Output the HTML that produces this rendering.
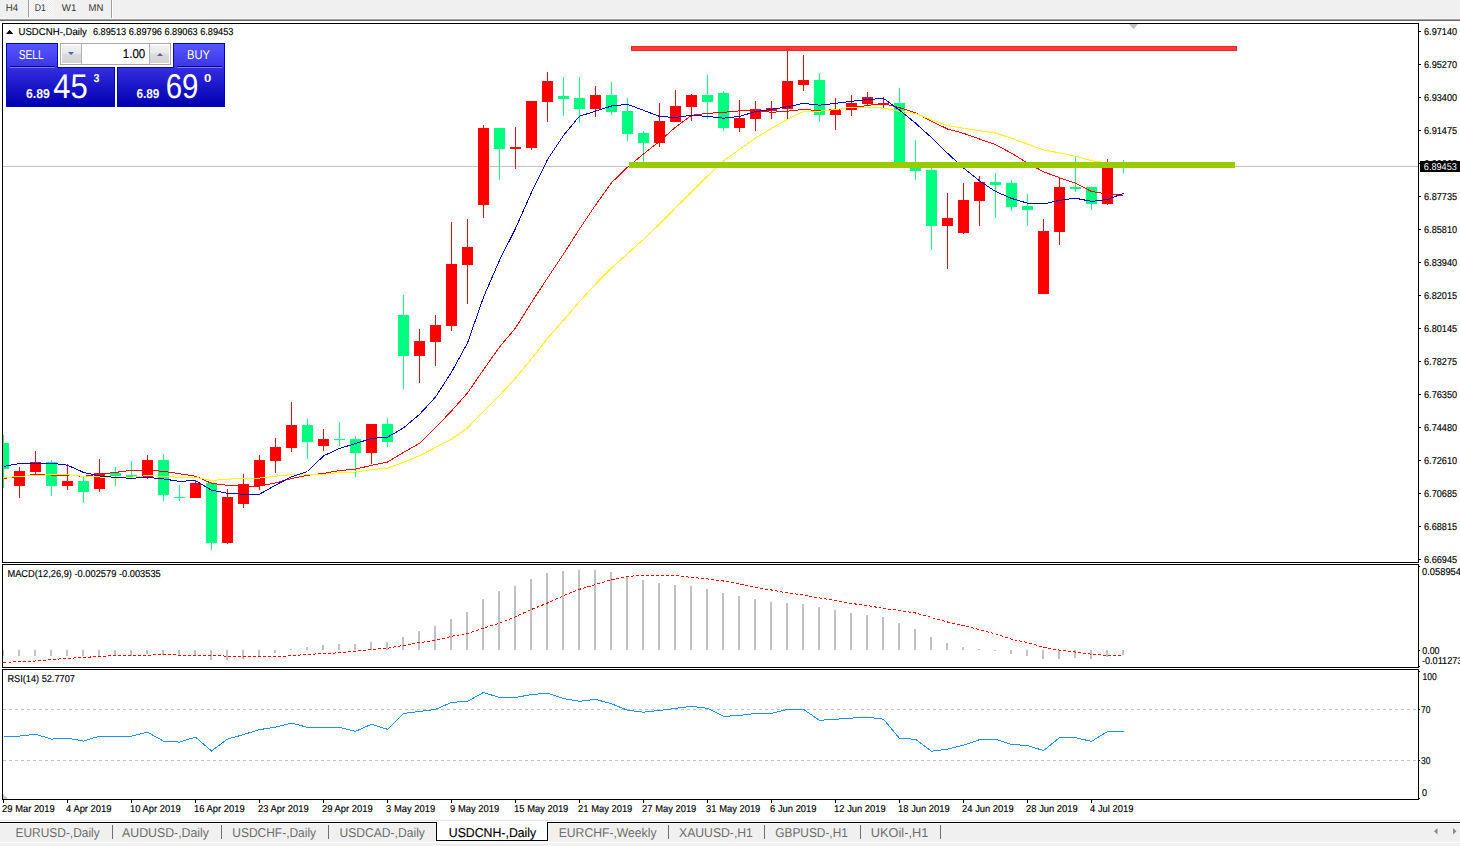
<!DOCTYPE html>
<html><head><meta charset="utf-8"><title>USDCNH-,Daily</title>
<style>
html,body{margin:0;padding:0;background:#fff;overflow:hidden;}
body{width:1460px;height:846px;position:relative;font-family:"Liberation Sans",sans-serif;}
svg{position:absolute;left:0;top:0;display:block;}
text{font-family:"Liberation Sans",sans-serif;text-rendering:geometricPrecision;}
</style></head><body>
<svg width="1460" height="846" viewBox="0 0 1460 846">
<rect x="0" y="0" width="1460" height="18" fill="#f0f0f0"/>
<rect x="0" y="18" width="1460" height="1" fill="#f7f7f7"/>
<rect x="0" y="19" width="1460" height="1" fill="#a0a0a0"/>
<rect x="0" y="20" width="1460" height="1" fill="#696969"/>
<defs><pattern id="chk" width="2" height="2" patternUnits="userSpaceOnUse"><rect width="2" height="2" fill="#fbfbfb"/><rect width="1" height="1" fill="#ececec"/><rect x="1" y="1" width="1" height="1" fill="#ececec"/></pattern></defs>
<rect x="29" y="0" width="24" height="17" fill="url(#chk)"/>
<rect x="28" y="0" width="1" height="17" fill="#a0a0a0"/>
<rect x="111" y="0" width="1" height="18" fill="#a0a0a0"/><rect x="112" y="0" width="1" height="18" fill="#ffffff"/>
<g font-family="Liberation Sans, sans-serif">
<text x="5.80" y="11" font-size="10.00" fill="#333" font-weight="normal" textLength="12.20" lengthAdjust="spacingAndGlyphs" >H4</text>
<text x="34.75" y="11" font-size="10.00" fill="#333" font-weight="normal" textLength="11.15" lengthAdjust="spacingAndGlyphs" >D1</text>
<text x="61.80" y="11" font-size="10.00" fill="#333" font-weight="normal" textLength="14.50" lengthAdjust="spacingAndGlyphs" >W1</text>
<text x="88.60" y="11" font-size="10.00" fill="#333" font-weight="normal" textLength="14.80" lengthAdjust="spacingAndGlyphs" >MN</text>
</g>
<rect x="2.5" y="23.5" width="1416" height="539" fill="#fff" stroke="#000" stroke-width="1"/>
<rect x="2.5" y="564.5" width="1416" height="103" fill="#fff" stroke="#000" stroke-width="1"/>
<rect x="2.5" y="669.5" width="1416" height="130" fill="#fff" stroke="#000" stroke-width="1"/>
<defs><clipPath id="cm"><rect x="3" y="24" width="1415" height="538"/></clipPath><clipPath id="cmacd"><rect x="3" y="565" width="1415" height="102"/></clipPath><clipPath id="crsi"><rect x="3" y="670" width="1415" height="129"/></clipPath></defs>
<g clip-path="url(#cm)" shape-rendering="crispEdges">
<rect x="3" y="166" width="1415" height="1" fill="#c0c0c0"/>
<polygon points="1129,24 1138,24 1133.5,29" fill="#c0c0c0" shape-rendering="auto"/>
<rect x="3" y="435" width="1" height="53" fill="#00ff80"/>
<rect x="-2" y="443" width="11" height="26" fill="#00ff80"/>
<rect x="19" y="467" width="1" height="31" fill="#ff0000"/>
<rect x="14" y="471" width="11" height="15" fill="#ff0000"/>
<rect x="35" y="451" width="1" height="24" fill="#ff0000"/>
<rect x="30" y="462" width="11" height="10" fill="#ff0000"/>
<rect x="51" y="460" width="1" height="36" fill="#00ff80"/>
<rect x="46" y="462" width="11" height="24" fill="#00ff80"/>
<rect x="67" y="464" width="1" height="26" fill="#ff0000"/>
<rect x="62" y="481" width="11" height="5" fill="#ff0000"/>
<rect x="83" y="477" width="1" height="26" fill="#00ff80"/>
<rect x="78" y="481" width="11" height="11" fill="#00ff80"/>
<rect x="99" y="459" width="1" height="33" fill="#ff0000"/>
<rect x="94" y="473" width="11" height="16" fill="#ff0000"/>
<rect x="115" y="467" width="1" height="19" fill="#00ff80"/>
<rect x="110" y="473" width="11" height="3" fill="#00ff80"/>
<rect x="131" y="461" width="1" height="17" fill="#00ff80"/>
<rect x="126" y="475" width="11" height="2" fill="#00ff80"/>
<rect x="147" y="455" width="1" height="24" fill="#ff0000"/>
<rect x="142" y="460" width="11" height="18" fill="#ff0000"/>
<rect x="163" y="454" width="1" height="47" fill="#00ff80"/>
<rect x="158" y="460" width="11" height="35" fill="#00ff80"/>
<rect x="179" y="485" width="1" height="16" fill="#00ff80"/>
<rect x="174" y="497" width="11" height="1" fill="#00ff80"/>
<rect x="195" y="481" width="1" height="17" fill="#ff0000"/>
<rect x="190" y="483" width="11" height="15" fill="#ff0000"/>
<rect x="211" y="482" width="1" height="68" fill="#00ff80"/>
<rect x="206" y="483" width="11" height="60" fill="#00ff80"/>
<rect x="227" y="489" width="1" height="55" fill="#ff0000"/>
<rect x="222" y="497" width="11" height="46" fill="#ff0000"/>
<rect x="243" y="474" width="1" height="34" fill="#ff0000"/>
<rect x="238" y="484" width="11" height="20" fill="#ff0000"/>
<rect x="259" y="455" width="1" height="35" fill="#ff0000"/>
<rect x="254" y="460" width="11" height="26" fill="#ff0000"/>
<rect x="275" y="438" width="1" height="35" fill="#ff0000"/>
<rect x="270" y="447" width="11" height="14" fill="#ff0000"/>
<rect x="291" y="402" width="1" height="50" fill="#ff0000"/>
<rect x="286" y="425" width="11" height="23" fill="#ff0000"/>
<rect x="307" y="419" width="1" height="40" fill="#00ff80"/>
<rect x="302" y="425" width="11" height="17" fill="#00ff80"/>
<rect x="323" y="429" width="1" height="22" fill="#ff0000"/>
<rect x="318" y="439" width="11" height="7" fill="#ff0000"/>
<rect x="339" y="422" width="1" height="24" fill="#00ff80"/>
<rect x="334" y="439" width="11" height="1" fill="#00ff80"/>
<rect x="355" y="436" width="1" height="41" fill="#00ff80"/>
<rect x="350" y="439" width="11" height="14" fill="#00ff80"/>
<rect x="371" y="424" width="1" height="40" fill="#ff0000"/>
<rect x="366" y="424" width="11" height="29" fill="#ff0000"/>
<rect x="387" y="418" width="1" height="29" fill="#00ff80"/>
<rect x="382" y="424" width="11" height="18" fill="#00ff80"/>
<rect x="403" y="295" width="1" height="94" fill="#00ff80"/>
<rect x="398" y="315" width="11" height="41" fill="#00ff80"/>
<rect x="419" y="329" width="1" height="54" fill="#ff0000"/>
<rect x="414" y="341" width="11" height="15" fill="#ff0000"/>
<rect x="435" y="315" width="1" height="51" fill="#ff0000"/>
<rect x="430" y="325" width="11" height="17" fill="#ff0000"/>
<rect x="451" y="222" width="1" height="109" fill="#ff0000"/>
<rect x="446" y="264" width="11" height="62" fill="#ff0000"/>
<rect x="467" y="219" width="1" height="85" fill="#ff0000"/>
<rect x="462" y="247" width="11" height="18" fill="#ff0000"/>
<rect x="483" y="125" width="1" height="93" fill="#ff0000"/>
<rect x="478" y="128" width="11" height="77" fill="#ff0000"/>
<rect x="499" y="128" width="1" height="52" fill="#00ff80"/>
<rect x="494" y="128" width="11" height="21" fill="#00ff80"/>
<rect x="515" y="127" width="1" height="42" fill="#ff0000"/>
<rect x="510" y="147" width="11" height="2" fill="#ff0000"/>
<rect x="531" y="101" width="1" height="49" fill="#ff0000"/>
<rect x="526" y="101" width="11" height="47" fill="#ff0000"/>
<rect x="547" y="72" width="1" height="50" fill="#ff0000"/>
<rect x="542" y="81" width="11" height="21" fill="#ff0000"/>
<rect x="563" y="77" width="1" height="39" fill="#00ff80"/>
<rect x="558" y="96" width="11" height="3" fill="#00ff80"/>
<rect x="579" y="77" width="1" height="46" fill="#00ff80"/>
<rect x="574" y="98" width="11" height="11" fill="#00ff80"/>
<rect x="595" y="86" width="1" height="31" fill="#ff0000"/>
<rect x="590" y="95" width="11" height="14" fill="#ff0000"/>
<rect x="611" y="82" width="1" height="33" fill="#00ff80"/>
<rect x="606" y="95" width="11" height="17" fill="#00ff80"/>
<rect x="627" y="98" width="1" height="43" fill="#00ff80"/>
<rect x="622" y="111" width="11" height="23" fill="#00ff80"/>
<rect x="643" y="131" width="1" height="31" fill="#00ff80"/>
<rect x="638" y="133" width="11" height="10" fill="#00ff80"/>
<rect x="659" y="103" width="1" height="44" fill="#ff0000"/>
<rect x="654" y="121" width="11" height="22" fill="#ff0000"/>
<rect x="675" y="90" width="1" height="32" fill="#ff0000"/>
<rect x="670" y="106" width="11" height="16" fill="#ff0000"/>
<rect x="691" y="94" width="1" height="27" fill="#ff0000"/>
<rect x="686" y="95" width="11" height="12" fill="#ff0000"/>
<rect x="707" y="75" width="1" height="44" fill="#00ff80"/>
<rect x="702" y="95" width="11" height="7" fill="#00ff80"/>
<rect x="723" y="91" width="1" height="40" fill="#00ff80"/>
<rect x="718" y="93" width="11" height="35" fill="#00ff80"/>
<rect x="739" y="100" width="1" height="32" fill="#ff0000"/>
<rect x="734" y="118" width="11" height="10" fill="#ff0000"/>
<rect x="755" y="101" width="1" height="30" fill="#ff0000"/>
<rect x="750" y="109" width="11" height="10" fill="#ff0000"/>
<rect x="771" y="101" width="1" height="18" fill="#ff0000"/>
<rect x="766" y="108" width="11" height="3" fill="#ff0000"/>
<rect x="787" y="51" width="1" height="69" fill="#ff0000"/>
<rect x="782" y="81" width="11" height="28" fill="#ff0000"/>
<rect x="803" y="55" width="1" height="36" fill="#ff0000"/>
<rect x="798" y="80" width="11" height="5" fill="#ff0000"/>
<rect x="819" y="73" width="1" height="49" fill="#00ff80"/>
<rect x="814" y="80" width="11" height="35" fill="#00ff80"/>
<rect x="835" y="98" width="1" height="32" fill="#ff0000"/>
<rect x="830" y="110" width="11" height="5" fill="#ff0000"/>
<rect x="851" y="95" width="1" height="21" fill="#ff0000"/>
<rect x="846" y="103" width="11" height="7" fill="#ff0000"/>
<rect x="867" y="92" width="1" height="14" fill="#ff0000"/>
<rect x="862" y="97" width="11" height="7" fill="#ff0000"/>
<rect x="883" y="97" width="1" height="11" fill="#ff0000"/>
<rect x="878" y="103" width="11" height="2" fill="#ff0000"/>
<rect x="899" y="88" width="1" height="76" fill="#00ff80"/>
<rect x="894" y="103" width="11" height="61" fill="#00ff80"/>
<rect x="915" y="140" width="1" height="40" fill="#00ff80"/>
<rect x="910" y="168" width="11" height="3" fill="#00ff80"/>
<rect x="931" y="167" width="1" height="83" fill="#00ff80"/>
<rect x="926" y="170" width="11" height="56" fill="#00ff80"/>
<rect x="947" y="193" width="1" height="76" fill="#ff0000"/>
<rect x="942" y="218" width="11" height="8" fill="#ff0000"/>
<rect x="963" y="183" width="1" height="51" fill="#ff0000"/>
<rect x="958" y="200" width="11" height="33" fill="#ff0000"/>
<rect x="979" y="176" width="1" height="50" fill="#ff0000"/>
<rect x="974" y="182" width="11" height="19" fill="#ff0000"/>
<rect x="995" y="173" width="1" height="45" fill="#00ff80"/>
<rect x="990" y="182" width="11" height="3" fill="#00ff80"/>
<rect x="1011" y="180" width="1" height="31" fill="#00ff80"/>
<rect x="1006" y="183" width="11" height="24" fill="#00ff80"/>
<rect x="1027" y="194" width="1" height="32" fill="#00ff80"/>
<rect x="1022" y="206" width="11" height="4" fill="#00ff80"/>
<rect x="1043" y="219" width="1" height="75" fill="#ff0000"/>
<rect x="1038" y="231" width="11" height="63" fill="#ff0000"/>
<rect x="1059" y="177" width="1" height="68" fill="#ff0000"/>
<rect x="1054" y="187" width="11" height="45" fill="#ff0000"/>
<rect x="1075" y="157" width="1" height="35" fill="#00ff80"/>
<rect x="1070" y="187" width="11" height="2" fill="#00ff80"/>
<rect x="1091" y="187" width="1" height="23" fill="#00ff80"/>
<rect x="1086" y="187" width="11" height="17" fill="#00ff80"/>
<rect x="1107" y="159" width="1" height="46" fill="#ff0000"/>
<rect x="1102" y="165" width="11" height="39" fill="#ff0000"/>
<rect x="1123" y="160" width="1" height="13" fill="#00ff80"/>
<rect x="1118" y="165" width="11" height="2" fill="#00ff80"/>
</g>
<g clip-path="url(#cm)">
<polyline points="3.5,478.3 19.5,476.8 35.5,474.0 51.5,475.0 67.5,475.0 83.5,476.4 99.5,474.1 115.5,472.4 131.5,470.3 147.5,470.3 163.5,471.3 179.5,473.7 195.5,476.2 211.5,483.3 227.5,485.3 243.5,486.2 259.5,486.2 275.5,482.9 291.5,478.6 307.5,475.3 323.5,473.4 339.5,470.6 355.5,469.1 371.5,465.4 387.5,462.0 403.5,452.4 419.5,443.3 435.5,427.6 451.5,411.0 467.5,392.9 483.5,369.7 499.5,347.0 515.5,328.0 531.5,302.5 547.5,278.0 563.5,254.1 579.5,229.0 595.5,205.1 611.5,182.7 627.5,167.2 643.5,154.0 659.5,141.3 675.5,127.2 691.5,115.3 707.5,113.4 723.5,112.3 739.5,110.9 755.5,110.3 771.5,112.3 787.5,111.2 803.5,109.3 819.5,110.8 835.5,109.5 851.5,107.9 867.5,105.4 883.5,103.5 899.5,107.7 915.5,112.7 931.5,121.2 947.5,129.0 963.5,133.3 979.5,139.0 995.5,144.6 1011.5,153.2 1027.5,163.0 1043.5,171.8 1059.5,177.7 1075.5,183.3 1091.5,191.5 1107.5,194.0 1123.5,195.4" fill="none" stroke="#ff0000" stroke-width="1" shape-rendering="crispEdges" />
<polyline points="3.5,477.7 19.5,476.4 35.5,475.3 51.5,474.8 67.5,474.8 83.5,476.4 99.5,477.0 115.5,478.2 131.5,477.2 147.5,475.5 163.5,476.4 179.5,477.3 195.5,477.3 211.5,480.4 227.5,479.2 243.5,478.3 259.5,478.1 275.5,476.2 291.5,474.6 307.5,474.3 323.5,474.3 339.5,472.5 355.5,472.0 371.5,469.6 387.5,468.1 403.5,462.3 419.5,455.7 435.5,447.4 451.5,439.2 467.5,427.9 483.5,411.5 499.5,395.5 515.5,378.1 531.5,358.7 547.5,338.4 563.5,320.1 579.5,301.5 595.5,284.2 611.5,268.0 627.5,253.7 643.5,239.3 659.5,224.0 675.5,207.8 691.5,191.9 707.5,176.2 723.5,161.0 739.5,149.4 755.5,138.1 771.5,128.5 787.5,119.2 803.5,111.5 819.5,111.2 835.5,109.5 851.5,107.3 867.5,107.1 883.5,108.2 899.5,111.2 915.5,113.4 931.5,119.8 947.5,125.5 963.5,128.3 979.5,130.7 995.5,133.0 1011.5,138.3 1027.5,144.1 1043.5,150.0 1059.5,152.9 1075.5,156.4 1091.5,160.6 1107.5,163.0 1123.5,165.0" fill="none" stroke="#ffff00" stroke-width="1" shape-rendering="crispEdges" />
<polyline points="3.5,466.4 19.5,463.5 35.5,463.2 51.5,463.2 67.5,465.2 83.5,472.4 99.5,476.0 115.5,477.4 131.5,478.3 147.5,477.3 163.5,479.0 179.5,481.3 195.5,480.6 211.5,490.2 227.5,493.3 243.5,494.2 259.5,494.2 275.5,485.2 291.5,476.7 307.5,471.5 323.5,455.9 339.5,448.4 355.5,443.6 371.5,438.4 387.5,437.2 403.5,427.9 419.5,414.4 435.5,397.0 451.5,372.2 467.5,343.0 483.5,297.2 499.5,260.3 515.5,228.5 531.5,192.3 547.5,159.6 563.5,135.5 579.5,116.1 595.5,111.3 611.5,106.0 627.5,104.3 643.5,110.3 659.5,116.4 675.5,117.5 691.5,115.3 707.5,116.4 723.5,118.2 739.5,116.4 755.5,111.6 771.5,109.3 787.5,106.8 803.5,103.3 819.5,105.2 835.5,103.3 851.5,101.3 867.5,99.5 883.5,98.4 899.5,110.1 915.5,123.1 931.5,137.6 947.5,153.2 963.5,168.0 979.5,180.8 995.5,191.5 1011.5,198.4 1027.5,203.2 1043.5,204.0 1059.5,200.3 1075.5,198.2 1091.5,201.4 1107.5,199.5 1123.5,193.3" fill="none" stroke="#0000cd" stroke-width="1" shape-rendering="crispEdges" />
</g>
<g shape-rendering="crispEdges">
<rect x="631" y="46" width="606" height="5" fill="#ff2424"/><rect x="632" y="47" width="604" height="3" fill="#f83a3a"/>
<rect x="629" y="162" width="606" height="6" fill="#99cc00"/>
</g>
<defs>
<linearGradient id="gtab" gradientUnits="userSpaceOnUse" x1="0" y1="44" x2="0" y2="67"><stop offset="0" stop-color="#5656ff"/><stop offset="1" stop-color="#3b36e5"/></linearGradient>
<linearGradient id="gbox" gradientUnits="userSpaceOnUse" x1="0" y1="67" x2="0" y2="106"><stop offset="0" stop-color="#352ee2"/><stop offset="1" stop-color="#0000ae"/></linearGradient>
<linearGradient id="gbtn" x1="0" y1="0" x2="0" y2="1"><stop offset="0" stop-color="#f2f2f2"/><stop offset="0.45" stop-color="#e9e9e9"/><stop offset="0.5" stop-color="#dcdcdc"/><stop offset="1" stop-color="#d2d2d2"/></linearGradient>
</defs>
<g shape-rendering="crispEdges">
<rect x="7" y="44" width="50" height="24" fill="url(#gtab)"/>
<rect x="7" y="67" width="107" height="39" fill="url(#gbox)"/>
<rect x="7" y="67" width="50" height="1" fill="#3b36e5"/>
<rect x="6" y="43" width="52" height="1" fill="#0000c0"/>
<rect x="6" y="43" width="1" height="64" fill="#0000c0"/>
<rect x="57" y="43" width="1" height="25" fill="#0000c0"/>
<rect x="57" y="67" width="58" height="1" fill="#0000c0"/>
<rect x="114" y="67" width="1" height="40" fill="#0000c0"/>
<rect x="6" y="106" width="109" height="1" fill="#0000c0"/>
<rect x="10" y="66" width="45" height="1" fill="#000080"/><rect x="10" y="67" width="45" height="1" fill="#7878ff"/>
<rect x="174" y="44" width="50" height="24" fill="url(#gtab)"/>
<rect x="118" y="67" width="106" height="39" fill="url(#gbox)"/>
<rect x="174" y="67" width="50" height="1" fill="#3b36e5"/>
<rect x="173" y="43" width="52" height="1" fill="#0000c0"/>
<rect x="224" y="43" width="1" height="64" fill="#0000c0"/>
<rect x="173" y="43" width="1" height="25" fill="#0000c0"/>
<rect x="117" y="67" width="57" height="1" fill="#0000c0"/>
<rect x="117" y="67" width="1" height="40" fill="#0000c0"/>
<rect x="117" y="106" width="108" height="1" fill="#0000c0"/>
<rect x="177" y="66" width="45" height="1" fill="#000080"/><rect x="177" y="67" width="45" height="1" fill="#7878ff"/>
<rect x="60" y="43" width="111" height="22" fill="#a8a8a8"/>
<rect x="61" y="44" width="109" height="20" fill="#fff"/>
<rect x="62" y="45" width="19" height="18" fill="url(#gbtn)"/>
<rect x="81" y="44" width="1" height="20" fill="#b0b0b0"/>
<rect x="150" y="45" width="19" height="18" fill="url(#gbtn)"/>
<rect x="149" y="44" width="1" height="20" fill="#b0b0b0"/>
</g>
<polygon points="68,52 74,52 71,55" fill="#5060b0"/>
<polygon points="157,56 163,56 160,53" fill="#5060b0"/>
<g font-family="Liberation Sans, sans-serif" fill="#fff">
<text x="18.70" y="59" font-size="12.86" fill="#fff" font-weight="normal" textLength="25.10" lengthAdjust="spacingAndGlyphs" >SELL</text>
<text x="187.00" y="59" font-size="12.86" fill="#fff" font-weight="normal" textLength="23.00" lengthAdjust="spacingAndGlyphs" >BUY</text>
<text x="26.00" y="98" font-size="12.86" fill="#fff" font-weight="bold" textLength="23.80" lengthAdjust="spacingAndGlyphs" >6.89</text>
<text x="53.20" y="98" font-size="34.29" fill="#fff" font-weight="normal" textLength="34.51" lengthAdjust="spacingAndGlyphs" >45</text>
<text x="93.60" y="82" font-size="11.43" fill="#fff" font-weight="bold" textLength="6.00" lengthAdjust="spacingAndGlyphs" >3</text>
<text x="136.40" y="98" font-size="12.86" fill="#fff" font-weight="bold" textLength="23.00" lengthAdjust="spacingAndGlyphs" >6.89</text>
<text x="165.70" y="98" font-size="34.29" fill="#fff" font-weight="normal" textLength="32.81" lengthAdjust="spacingAndGlyphs" >69</text>
<text x="204.00" y="82" font-size="11.43" fill="#fff" font-weight="bold" textLength="7.30" lengthAdjust="spacingAndGlyphs" >0</text>
<text x="122.80" y="58" font-size="12.86" fill="#000" font-weight="normal" textLength="22.50" lengthAdjust="spacingAndGlyphs" stroke="#000" stroke-width="0.15" >1.00</text>
</g>
<polygon points="6,34 13.2,34 9.6,29.8" fill="#000"/>
<g font-family="Liberation Sans, sans-serif">
<text x="18.50" y="35" font-size="10.00" fill="#000" font-weight="normal" textLength="68.40" lengthAdjust="spacingAndGlyphs" stroke="#000" stroke-width="0.15" >USDCNH-,Daily</text>
<text x="92.90" y="35" font-size="10.00" fill="#000" font-weight="normal" textLength="140.50" lengthAdjust="spacingAndGlyphs" stroke="#000" stroke-width="0.15" >6.89513 6.89796 6.89063 6.89453</text>
</g>
<g shape-rendering="crispEdges">
<rect x="1419" y="31" width="2" height="1" fill="#000"/>
<rect x="1419" y="64" width="2" height="1" fill="#000"/>
<rect x="1419" y="97" width="2" height="1" fill="#000"/>
<rect x="1419" y="130" width="2" height="1" fill="#000"/>
<rect x="1419" y="163" width="2" height="1" fill="#000"/>
<rect x="1419" y="196" width="2" height="1" fill="#000"/>
<rect x="1419" y="229" width="2" height="1" fill="#000"/>
<rect x="1419" y="262" width="2" height="1" fill="#000"/>
<rect x="1419" y="295" width="2" height="1" fill="#000"/>
<rect x="1419" y="328" width="2" height="1" fill="#000"/>
<rect x="1419" y="361" width="2" height="1" fill="#000"/>
<rect x="1419" y="394" width="2" height="1" fill="#000"/>
<rect x="1419" y="427" width="2" height="1" fill="#000"/>
<rect x="1419" y="460" width="2" height="1" fill="#000"/>
<rect x="1419" y="493" width="2" height="1" fill="#000"/>
<rect x="1419" y="526" width="2" height="1" fill="#000"/>
<rect x="1419" y="559" width="2" height="1" fill="#000"/>
</g>
<g font-family="Liberation Sans, sans-serif">
<text x="1424.00" y="35" font-size="10.00" fill="#000" font-weight="normal" textLength="33.10" lengthAdjust="spacingAndGlyphs" stroke="#000" stroke-width="0.15" >6.97140</text>
<text x="1424.00" y="68" font-size="10.00" fill="#000" font-weight="normal" textLength="33.10" lengthAdjust="spacingAndGlyphs" stroke="#000" stroke-width="0.15" >6.95270</text>
<text x="1424.00" y="101" font-size="10.00" fill="#000" font-weight="normal" textLength="33.10" lengthAdjust="spacingAndGlyphs" stroke="#000" stroke-width="0.15" >6.93400</text>
<text x="1424.00" y="134" font-size="10.00" fill="#000" font-weight="normal" textLength="33.10" lengthAdjust="spacingAndGlyphs" stroke="#000" stroke-width="0.15" >6.91475</text>
<text x="1424.00" y="167" font-size="10.00" fill="#000" font-weight="normal" textLength="33.10" lengthAdjust="spacingAndGlyphs" stroke="#000" stroke-width="0.15" >6.89605</text>
<text x="1424.00" y="200" font-size="10.00" fill="#000" font-weight="normal" textLength="33.10" lengthAdjust="spacingAndGlyphs" stroke="#000" stroke-width="0.15" >6.87735</text>
<text x="1424.00" y="233" font-size="10.00" fill="#000" font-weight="normal" textLength="33.10" lengthAdjust="spacingAndGlyphs" stroke="#000" stroke-width="0.15" >6.85810</text>
<text x="1424.00" y="266" font-size="10.00" fill="#000" font-weight="normal" textLength="33.10" lengthAdjust="spacingAndGlyphs" stroke="#000" stroke-width="0.15" >6.83940</text>
<text x="1424.00" y="299" font-size="10.00" fill="#000" font-weight="normal" textLength="33.10" lengthAdjust="spacingAndGlyphs" stroke="#000" stroke-width="0.15" >6.82015</text>
<text x="1424.00" y="332" font-size="10.00" fill="#000" font-weight="normal" textLength="33.10" lengthAdjust="spacingAndGlyphs" stroke="#000" stroke-width="0.15" >6.80145</text>
<text x="1424.00" y="365" font-size="10.00" fill="#000" font-weight="normal" textLength="33.10" lengthAdjust="spacingAndGlyphs" stroke="#000" stroke-width="0.15" >6.78275</text>
<text x="1424.00" y="398" font-size="10.00" fill="#000" font-weight="normal" textLength="33.10" lengthAdjust="spacingAndGlyphs" stroke="#000" stroke-width="0.15" >6.76350</text>
<text x="1424.00" y="431" font-size="10.00" fill="#000" font-weight="normal" textLength="33.10" lengthAdjust="spacingAndGlyphs" stroke="#000" stroke-width="0.15" >6.74480</text>
<text x="1424.00" y="464" font-size="10.00" fill="#000" font-weight="normal" textLength="33.10" lengthAdjust="spacingAndGlyphs" stroke="#000" stroke-width="0.15" >6.72610</text>
<text x="1424.00" y="497" font-size="10.00" fill="#000" font-weight="normal" textLength="33.10" lengthAdjust="spacingAndGlyphs" stroke="#000" stroke-width="0.15" >6.70685</text>
<text x="1424.00" y="530" font-size="10.00" fill="#000" font-weight="normal" textLength="33.10" lengthAdjust="spacingAndGlyphs" stroke="#000" stroke-width="0.15" >6.68815</text>
<text x="1424.00" y="563" font-size="10.00" fill="#000" font-weight="normal" textLength="33.10" lengthAdjust="spacingAndGlyphs" stroke="#000" stroke-width="0.15" >6.66945</text>
</g>
<rect x="1420" y="161" width="40" height="11" fill="#000" shape-rendering="crispEdges"/>
<g font-family="Liberation Sans, sans-serif"><text x="1423.80" y="170" font-size="10.00" fill="#fff" font-weight="normal" textLength="33.10" lengthAdjust="spacingAndGlyphs" >6.89453</text></g>
<g clip-path="url(#cmacd)" shape-rendering="crispEdges">
<rect x="2" y="650" width="2" height="6" fill="#c0c0c0"/>
<rect x="18" y="650" width="2" height="6" fill="#c0c0c0"/>
<rect x="34" y="650" width="2" height="6" fill="#c0c0c0"/>
<rect x="50" y="650" width="2" height="6" fill="#c0c0c0"/>
<rect x="66" y="650" width="2" height="6" fill="#c0c0c0"/>
<rect x="82" y="650" width="2" height="6" fill="#c0c0c0"/>
<rect x="98" y="650" width="2" height="6" fill="#c0c0c0"/>
<rect x="114" y="650" width="2" height="6" fill="#c0c0c0"/>
<rect x="130" y="650" width="2" height="6" fill="#c0c0c0"/>
<rect x="146" y="650" width="2" height="4" fill="#c0c0c0"/>
<rect x="162" y="650" width="2" height="5" fill="#c0c0c0"/>
<rect x="178" y="650" width="2" height="6" fill="#c0c0c0"/>
<rect x="194" y="650" width="2" height="6" fill="#c0c0c0"/>
<rect x="210" y="650" width="2" height="10" fill="#c0c0c0"/>
<rect x="226" y="650" width="2" height="10" fill="#c0c0c0"/>
<rect x="242" y="650" width="2" height="9" fill="#c0c0c0"/>
<rect x="258" y="650" width="2" height="6" fill="#c0c0c0"/>
<rect x="274" y="650" width="2" height="3" fill="#c0c0c0"/>
<rect x="290" y="649" width="2" height="1" fill="#c0c0c0"/>
<rect x="306" y="647" width="2" height="3" fill="#c0c0c0"/>
<rect x="322" y="645" width="2" height="5" fill="#c0c0c0"/>
<rect x="338" y="644" width="2" height="6" fill="#c0c0c0"/>
<rect x="354" y="644" width="2" height="6" fill="#c0c0c0"/>
<rect x="370" y="642" width="2" height="8" fill="#c0c0c0"/>
<rect x="386" y="642" width="2" height="8" fill="#c0c0c0"/>
<rect x="402" y="637" width="2" height="13" fill="#c0c0c0"/>
<rect x="418" y="631" width="2" height="19" fill="#c0c0c0"/>
<rect x="434" y="626" width="2" height="24" fill="#c0c0c0"/>
<rect x="450" y="619" width="2" height="31" fill="#c0c0c0"/>
<rect x="466" y="612" width="2" height="38" fill="#c0c0c0"/>
<rect x="482" y="599" width="2" height="51" fill="#c0c0c0"/>
<rect x="498" y="591" width="2" height="59" fill="#c0c0c0"/>
<rect x="514" y="586" width="2" height="64" fill="#c0c0c0"/>
<rect x="530" y="579" width="2" height="71" fill="#c0c0c0"/>
<rect x="546" y="573" width="2" height="77" fill="#c0c0c0"/>
<rect x="562" y="571" width="2" height="79" fill="#c0c0c0"/>
<rect x="578" y="570" width="2" height="80" fill="#c0c0c0"/>
<rect x="594" y="570" width="2" height="80" fill="#c0c0c0"/>
<rect x="610" y="572" width="2" height="78" fill="#c0c0c0"/>
<rect x="626" y="576" width="2" height="74" fill="#c0c0c0"/>
<rect x="642" y="580" width="2" height="70" fill="#c0c0c0"/>
<rect x="658" y="583" width="2" height="67" fill="#c0c0c0"/>
<rect x="674" y="585" width="2" height="65" fill="#c0c0c0"/>
<rect x="690" y="586" width="2" height="64" fill="#c0c0c0"/>
<rect x="706" y="589" width="2" height="61" fill="#c0c0c0"/>
<rect x="722" y="593" width="2" height="57" fill="#c0c0c0"/>
<rect x="738" y="596" width="2" height="54" fill="#c0c0c0"/>
<rect x="754" y="599" width="2" height="51" fill="#c0c0c0"/>
<rect x="770" y="602" width="2" height="48" fill="#c0c0c0"/>
<rect x="786" y="603" width="2" height="47" fill="#c0c0c0"/>
<rect x="802" y="604" width="2" height="46" fill="#c0c0c0"/>
<rect x="818" y="607" width="2" height="43" fill="#c0c0c0"/>
<rect x="834" y="610" width="2" height="40" fill="#c0c0c0"/>
<rect x="850" y="613" width="2" height="37" fill="#c0c0c0"/>
<rect x="866" y="615" width="2" height="35" fill="#c0c0c0"/>
<rect x="882" y="617" width="2" height="33" fill="#c0c0c0"/>
<rect x="898" y="623" width="2" height="27" fill="#c0c0c0"/>
<rect x="914" y="629" width="2" height="21" fill="#c0c0c0"/>
<rect x="930" y="637" width="2" height="13" fill="#c0c0c0"/>
<rect x="946" y="643" width="2" height="7" fill="#c0c0c0"/>
<rect x="962" y="647" width="2" height="3" fill="#c0c0c0"/>
<rect x="978" y="649" width="2" height="1" fill="#c0c0c0"/>
<rect x="994" y="650" width="2" height="1" fill="#c0c0c0"/>
<rect x="1010" y="650" width="2" height="4" fill="#c0c0c0"/>
<rect x="1026" y="650" width="2" height="6" fill="#c0c0c0"/>
<rect x="1042" y="650" width="2" height="9" fill="#c0c0c0"/>
<rect x="1058" y="650" width="2" height="9" fill="#c0c0c0"/>
<rect x="1074" y="650" width="2" height="8" fill="#c0c0c0"/>
<rect x="1090" y="650" width="2" height="9" fill="#c0c0c0"/>
<rect x="1106" y="650" width="2" height="7" fill="#c0c0c0"/>
<rect x="1122" y="650" width="2" height="5" fill="#c0c0c0"/>
</g>
<g clip-path="url(#cmacd)"><polyline points="3.5,662.5 19.5,661.7 35.5,661.0 51.5,659.5 67.5,658.4 83.5,657.4 99.5,656.5 115.5,655.5 131.5,655.2 147.5,655.2 163.5,654.4 179.5,655.2 195.5,655.2 211.5,655.2 227.5,656.2 243.5,656.6 259.5,656.6 275.5,656.6 291.5,655.7 307.5,654.4 323.5,653.6 339.5,652.8 355.5,651.1 371.5,649.5 387.5,648.2 403.5,645.4 419.5,642.6 435.5,640.4 451.5,636.3 467.5,633.4 483.5,628.2 499.5,623.1 515.5,616.7 531.5,609.4 547.5,603.0 563.5,595.7 579.5,589.3 595.5,584.5 611.5,579.8 627.5,576.3 643.5,575.5 659.5,575.5 675.5,575.5 691.5,577.4 707.5,579.0 723.5,581.0 739.5,584.0 755.5,587.5 771.5,590.0 787.5,593.0 803.5,595.0 819.5,598.0 835.5,600.5 851.5,603.5 867.5,605.5 883.5,608.5 899.5,610.5 915.5,613.0 931.5,617.5 947.5,622.0 963.5,625.7 979.5,629.6 995.5,633.9 1011.5,639.3 1027.5,642.5 1043.5,647.3 1059.5,650.1 1075.5,652.1 1091.5,654.2 1107.5,655.4 1123.5,655.2" fill="none" stroke="#ff0000" stroke-width="1" shape-rendering="crispEdges" stroke-dasharray="3,2"/></g>
<g font-family="Liberation Sans, sans-serif">
<text x="7.40" y="577" font-size="10.00" fill="#000" font-weight="normal" textLength="153.40" lengthAdjust="spacingAndGlyphs" stroke="#000" stroke-width="0.15" >MACD(12,26,9) -0.002579 -0.003535</text>
<text x="1422.10" y="575" font-size="10.00" fill="#000" font-weight="normal" textLength="38.90" lengthAdjust="spacingAndGlyphs" stroke="#000" stroke-width="0.15" >0.058954</text>
<text x="1422.20" y="654" font-size="10.00" fill="#000" font-weight="normal" textLength="17.40" lengthAdjust="spacingAndGlyphs" stroke="#000" stroke-width="0.15" >0.00</text>
<text x="1421.90" y="664" font-size="10.00" fill="#000" font-weight="normal" textLength="40.60" lengthAdjust="spacingAndGlyphs" stroke="#000" stroke-width="0.15" >-0.011273</text>
</g>
<g shape-rendering="crispEdges"><rect x="1419" y="566" width="1" height="1" fill="#000"/><rect x="1419" y="650" width="1" height="1" fill="#000"/><rect x="1419" y="666" width="1" height="1" fill="#000"/></g>
<g shape-rendering="crispEdges">
<line x1="3" y1="709.5" x2="1418" y2="709.5" stroke="#c0c0c0" stroke-dasharray="3,3"/>
<line x1="3" y1="760.5" x2="1418" y2="760.5" stroke="#c0c0c0" stroke-dasharray="3,3"/>
<rect x="1419" y="671" width="1" height="1" fill="#000"/><rect x="1419" y="709" width="1" height="1" fill="#000"/><rect x="1419" y="760" width="1" height="1" fill="#000"/><rect x="1419" y="798" width="1" height="1" fill="#000"/>
</g>
<g clip-path="url(#crsi)"><polyline points="3.5,736.1 19.5,736.1 35.5,734.2 51.5,739.1 67.5,738.1 83.5,741.1 99.5,736.1 115.5,736.1 131.5,736.1 147.5,732.2 163.5,741.1 179.5,742.1 195.5,737.1 211.5,751.0 227.5,739.1 243.5,734.6 259.5,729.6 275.5,727.2 291.5,723.1 307.5,727.3 323.5,727.3 339.5,727.3 355.5,731.3 371.5,724.3 387.5,729.3 403.5,713.4 419.5,711.4 435.5,709.4 451.5,702.4 467.5,701.3 483.5,692.5 499.5,697.5 515.5,697.5 531.5,694.5 547.5,693.3 563.5,698.5 579.5,701.3 595.5,699.3 611.5,703.8 627.5,710.2 643.5,712.2 659.5,710.4 675.5,708.4 691.5,706.2 707.5,708.4 723.5,716.4 739.5,715.4 755.5,713.4 771.5,713.4 787.5,709.4 803.5,709.4 819.5,720.3 835.5,719.3 851.5,718.1 867.5,717.1 883.5,719.2 899.5,738.3 915.5,739.3 931.5,751.2 947.5,749.2 963.5,745.1 979.5,739.7 995.5,739.3 1011.5,744.4 1027.5,745.5 1043.5,750.6 1059.5,737.7 1075.5,737.7 1091.5,741.4 1107.5,731.5 1123.5,731.5" fill="none" stroke="#1e90ff" stroke-width="1" shape-rendering="crispEdges" /></g>
<polygon points="3,794 3,799 8,799" fill="#c0c0c0"/>
<g font-family="Liberation Sans, sans-serif">
<text x="7.40" y="682" font-size="10.00" fill="#000" font-weight="normal" textLength="67.50" lengthAdjust="spacingAndGlyphs" stroke="#000" stroke-width="0.15" >RSI(14) 52.7707</text>
<text x="1422.50" y="680" font-size="10.00" fill="#000" font-weight="normal" textLength="14.20" lengthAdjust="spacingAndGlyphs" stroke="#000" stroke-width="0.15" >100</text>
<text x="1421.10" y="713" font-size="10.00" fill="#000" font-weight="normal" textLength="9.40" lengthAdjust="spacingAndGlyphs" stroke="#000" stroke-width="0.15" >70</text>
<text x="1421.10" y="764" font-size="10.00" fill="#000" font-weight="normal" textLength="9.40" lengthAdjust="spacingAndGlyphs" stroke="#000" stroke-width="0.15" >30</text>
<text x="1422.00" y="796" font-size="10.00" fill="#000" font-weight="normal" textLength="5.00" lengthAdjust="spacingAndGlyphs" stroke="#000" stroke-width="0.15" >0</text>
</g>
<g shape-rendering="crispEdges">
<rect x="3" y="800" width="1" height="3" fill="#000"/>
<rect x="67" y="800" width="1" height="3" fill="#000"/>
<rect x="131" y="800" width="1" height="3" fill="#000"/>
<rect x="195" y="800" width="1" height="3" fill="#000"/>
<rect x="259" y="800" width="1" height="3" fill="#000"/>
<rect x="323" y="800" width="1" height="3" fill="#000"/>
<rect x="387" y="800" width="1" height="3" fill="#000"/>
<rect x="451" y="800" width="1" height="3" fill="#000"/>
<rect x="515" y="800" width="1" height="3" fill="#000"/>
<rect x="579" y="800" width="1" height="3" fill="#000"/>
<rect x="643" y="800" width="1" height="3" fill="#000"/>
<rect x="707" y="800" width="1" height="3" fill="#000"/>
<rect x="771" y="800" width="1" height="3" fill="#000"/>
<rect x="835" y="800" width="1" height="3" fill="#000"/>
<rect x="899" y="800" width="1" height="3" fill="#000"/>
<rect x="963" y="800" width="1" height="3" fill="#000"/>
<rect x="1027" y="800" width="1" height="3" fill="#000"/>
<rect x="1091" y="800" width="1" height="3" fill="#000"/>
</g>
<g font-family="Liberation Sans, sans-serif">
<text x="2.10" y="812" font-size="10.00" fill="#000" font-weight="normal" textLength="52.67" lengthAdjust="spacingAndGlyphs" stroke="#000" stroke-width="0.15" >29 Mar 2019</text>
<text x="66.10" y="812" font-size="10.00" fill="#000" font-weight="normal" textLength="45.38" lengthAdjust="spacingAndGlyphs" stroke="#000" stroke-width="0.15" >4 Apr 2019</text>
<text x="130.10" y="812" font-size="10.00" fill="#000" font-weight="normal" textLength="50.59" lengthAdjust="spacingAndGlyphs" stroke="#000" stroke-width="0.15" >10 Apr 2019</text>
<text x="194.10" y="812" font-size="10.00" fill="#000" font-weight="normal" textLength="50.59" lengthAdjust="spacingAndGlyphs" stroke="#000" stroke-width="0.15" >16 Apr 2019</text>
<text x="258.10" y="812" font-size="10.00" fill="#000" font-weight="normal" textLength="50.59" lengthAdjust="spacingAndGlyphs" stroke="#000" stroke-width="0.15" >23 Apr 2019</text>
<text x="322.10" y="812" font-size="10.00" fill="#000" font-weight="normal" textLength="50.59" lengthAdjust="spacingAndGlyphs" stroke="#000" stroke-width="0.15" >29 Apr 2019</text>
<text x="386.10" y="812" font-size="10.00" fill="#000" font-weight="normal" textLength="49.02" lengthAdjust="spacingAndGlyphs" stroke="#000" stroke-width="0.15" >3 May 2019</text>
<text x="450.10" y="812" font-size="10.00" fill="#000" font-weight="normal" textLength="49.02" lengthAdjust="spacingAndGlyphs" stroke="#000" stroke-width="0.15" >9 May 2019</text>
<text x="514.10" y="812" font-size="10.00" fill="#000" font-weight="normal" textLength="54.23" lengthAdjust="spacingAndGlyphs" stroke="#000" stroke-width="0.15" >15 May 2019</text>
<text x="578.10" y="812" font-size="10.00" fill="#000" font-weight="normal" textLength="54.23" lengthAdjust="spacingAndGlyphs" stroke="#000" stroke-width="0.15" >21 May 2019</text>
<text x="642.10" y="812" font-size="10.00" fill="#000" font-weight="normal" textLength="54.23" lengthAdjust="spacingAndGlyphs" stroke="#000" stroke-width="0.15" >27 May 2019</text>
<text x="706.10" y="812" font-size="10.00" fill="#000" font-weight="normal" textLength="54.23" lengthAdjust="spacingAndGlyphs" stroke="#000" stroke-width="0.15" >31 May 2019</text>
<text x="770.10" y="812" font-size="10.00" fill="#000" font-weight="normal" textLength="46.42" lengthAdjust="spacingAndGlyphs" stroke="#000" stroke-width="0.15" >6 Jun 2019</text>
<text x="834.10" y="812" font-size="10.00" fill="#000" font-weight="normal" textLength="51.64" lengthAdjust="spacingAndGlyphs" stroke="#000" stroke-width="0.15" >12 Jun 2019</text>
<text x="898.10" y="812" font-size="10.00" fill="#000" font-weight="normal" textLength="51.64" lengthAdjust="spacingAndGlyphs" stroke="#000" stroke-width="0.15" >18 Jun 2019</text>
<text x="962.10" y="812" font-size="10.00" fill="#000" font-weight="normal" textLength="51.64" lengthAdjust="spacingAndGlyphs" stroke="#000" stroke-width="0.15" >24 Jun 2019</text>
<text x="1026.10" y="812" font-size="10.00" fill="#000" font-weight="normal" textLength="51.64" lengthAdjust="spacingAndGlyphs" stroke="#000" stroke-width="0.15" >28 Jun 2019</text>
<text x="1090.10" y="812" font-size="10.00" fill="#000" font-weight="normal" textLength="43.29" lengthAdjust="spacingAndGlyphs" stroke="#000" stroke-width="0.15" >4 Jul 2019</text>
</g>
<g shape-rendering="crispEdges">
<rect x="0" y="820" width="1460" height="1" fill="#e3e3e3"/>
<rect x="0" y="822" width="1460" height="1" fill="#000"/>
<rect x="0" y="823" width="1460" height="1" fill="#fafafa"/>
<rect x="0" y="824" width="1460" height="18" fill="#f0f0f0"/>
<rect x="0" y="842" width="1460" height="1" fill="#ffffff"/>
<rect x="0" y="843" width="1460" height="3" fill="#f0f0f0"/>
<rect x="436" y="822" width="112" height="19" fill="#000"/>
<rect x="437" y="822" width="110" height="18" fill="#fff"/>
<rect x="112" y="825" width="1" height="14" fill="#707070"/>
<rect x="221" y="825" width="1" height="14" fill="#707070"/>
<rect x="328" y="825" width="1" height="14" fill="#707070"/>
<rect x="668" y="825" width="1" height="14" fill="#707070"/>
<rect x="764" y="825" width="1" height="14" fill="#707070"/>
<rect x="860" y="825" width="1" height="14" fill="#707070"/>
<rect x="940" y="825" width="1" height="14" fill="#707070"/>
</g>
<polygon points="1437.5,828 1437.5,834.5 1434,831.25" fill="#8a8a8a"/>
<polygon points="1453,828 1453,834.5 1456.5,831.25" fill="#8a8a8a"/>
<g font-family="Liberation Sans, sans-serif">
<text x="15.50" y="837" font-size="12.86" fill="#6d6d6d" font-weight="normal" textLength="84.20" lengthAdjust="spacingAndGlyphs" >EURUSD-,Daily</text>
<text x="122.10" y="837" font-size="12.86" fill="#6d6d6d" font-weight="normal" textLength="86.90" lengthAdjust="spacingAndGlyphs" >AUDUSD-,Daily</text>
<text x="232.30" y="837" font-size="12.86" fill="#6d6d6d" font-weight="normal" textLength="83.80" lengthAdjust="spacingAndGlyphs" >USDCHF-,Daily</text>
<text x="339.40" y="837" font-size="12.86" fill="#6d6d6d" font-weight="normal" textLength="85.50" lengthAdjust="spacingAndGlyphs" >USDCAD-,Daily</text>
<text x="558.70" y="837" font-size="12.86" fill="#6d6d6d" font-weight="normal" textLength="97.80" lengthAdjust="spacingAndGlyphs" >EURCHF-,Weekly</text>
<text x="679.00" y="837" font-size="12.86" fill="#6d6d6d" font-weight="normal" textLength="73.90" lengthAdjust="spacingAndGlyphs" >XAUUSD-,H1</text>
<text x="775.30" y="837" font-size="12.86" fill="#6d6d6d" font-weight="normal" textLength="72.50" lengthAdjust="spacingAndGlyphs" >GBPUSD-,H1</text>
<text x="870.80" y="837" font-size="12.86" fill="#6d6d6d" font-weight="normal" textLength="57.59" lengthAdjust="spacingAndGlyphs" >UKOil-,H1</text>
<text x="448.80" y="837" font-size="12.86" fill="#000" font-weight="normal" textLength="87.40" lengthAdjust="spacingAndGlyphs" stroke="#000" stroke-width="0.15" >USDCNH-,Daily</text>
</g>
</svg>
</body></html>
